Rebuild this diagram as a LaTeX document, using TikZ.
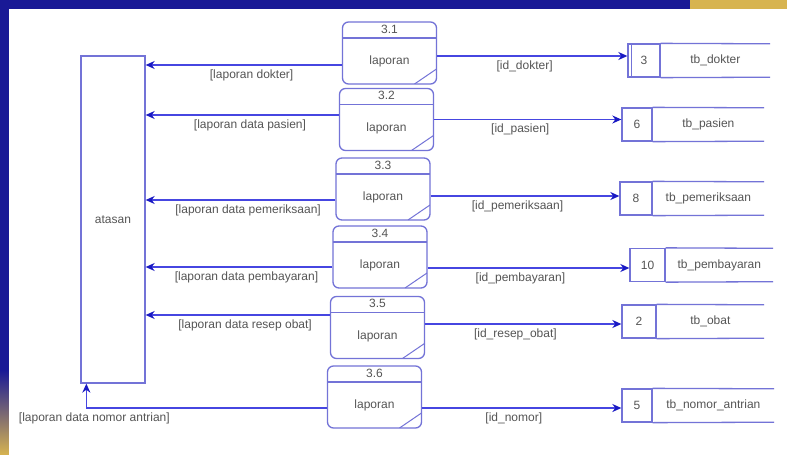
\documentclass[tikz,border=0pt]{standalone}
\usepackage{fontspec}
\setmainfont{Liberation Sans}
\usetikzlibrary{arrows.meta,positioning}
\definecolor{dfdline}{RGB}{70,70,225}
\definecolor{dfdbox}{RGB}{115,115,215}
\definecolor{dfdtip}{RGB}{25,25,195}
\definecolor{dfdtext}{RGB}{85,85,85}
\definecolor{bgblue}{RGB}{25,25,150}
\definecolor{bgyellow}{RGB}{215,180,80}
\tikzset{
  proc/.style={draw=dfdbox,line width=1.3pt,rounded corners=6pt,minimum width=94pt,
               minimum height=62pt,inner sep=0pt,text height=26pt,text depth=3pt,text=dfdtext,
               path picture={
                 \draw[dfdbox,line width=1.3pt] ([yshift=-16pt]path picture bounding box.north west)
                      -- ([yshift=-16pt]path picture bounding box.north east);
                 \draw[dfdbox,line width=1pt] ([xshift=-22pt]path picture bounding box.south east)
                      -- ([yshift=15pt]path picture bounding box.south east);}},
  pid/.style={anchor=north,inner sep=3.5pt,text=dfdtext},
  ent/.style={draw=dfdbox,line width=1.3pt,minimum width=64pt,minimum height=327pt,text=dfdtext},
  storeid/.style={draw=dfdbox,line width=1.3pt,minimum height=33pt,inner sep=0pt,text=dfdtext},
  storenm/.style={minimum height=33pt,inner sep=0pt,text=dfdtext},
  storeline/.style={draw=dfdbox,line width=1.3pt},
  flow/.style={draw=dfdline,line width=1.3pt,-{Stealth[length=9pt,width=8pt,color=dfdtip]}},
  flowlbl/.style={text=dfdtext,inner sep=1pt},
}
\begin{document}
\begin{tikzpicture}[x=1pt,y=-1pt,font=\fontsize{12}{14}\selectfont]
\useasboundingbox (0,0) rectangle (787,455);
% frame of the screenshot
\fill[bgblue] (0,0) rectangle (787,455);
\fill[bgyellow] (690,0) rectangle (787,9);
\shade[top color=bgblue,bottom color=bgyellow] (0,370) rectangle (9,455);
\fill[white] (9,9) rectangle (787,455);
% external entity
\node[ent] (atasan) at (113,219.5) {atasan};
% processes
\node[proc,label={[pid]north:3.1}] (p1) at (389.5,53) {laporan};
\node[proc,label={[pid]north:3.2}] (p2) at (386.5,119.5) {laporan};
\node[proc,label={[pid]north:3.3}] (p3) at (383,189) {laporan};
\node[proc,label={[pid]north:3.4}] (p4) at (380,257) {laporan};
\node[proc,label={[pid]north:3.5}] (p5) at (377.5,327.5) {laporan};
\node[proc,label={[pid]north:3.6}] (p6) at (374.5,397) {laporan};
% data stores
\node[storeid,minimum width=32pt] (s3id) at (644,60.5) {3};
\node[storenm,minimum width=109pt,right=0pt of s3id] (s3nm) {tb\_dokter};
\node[storeid,minimum width=30pt] (s6id) at (637,124.5) {6};
\node[storenm,minimum width=111pt,right=0pt of s6id] (s6nm) {tb\_pasien};
\node[storeid,minimum width=32pt] (s8id) at (636,198.5) {8};
\node[storenm,minimum width=111pt,right=0pt of s8id] (s8nm) {tb\_pemeriksaan};
\node[storeid,minimum width=35pt] (s10id) at (647.5,265) {10};
\node[storenm,minimum width=107pt,right=0pt of s10id] (s10nm) {tb\_pembayaran};
\node[storeid,minimum width=34pt] (s2id) at (639,321.5) {2};
\node[storenm,minimum width=107pt,right=0pt of s2id] (s2nm) {tb\_obat};
\node[storeid,minimum width=30pt] (s5id) at (637,405.5) {5};
\node[storenm,minimum width=121pt,right=0pt of s5id] (s5nm) {tb\_nomor\_antrian};
\foreach \s in {s3,s6,s8,s10,s2,s5}
  \draw[storeline] (\s id.north east) -- (\s nm.north east) (\s id.south east) -- (\s nm.south east);
\draw[storeline] ([xshift=4pt]s3id.north west) -- ([xshift=4pt]s3id.south west);
% reports to atasan
\draw[flow] ([yshift=-12pt]p1.west) coordinate (f1) -- node[flowlbl,below=3pt,pos=0.46] {[laporan dokter]} (f1 -| atasan.east);
\draw[flow] ([yshift=4.5pt]p2.west) coordinate (f2) -- node[flowlbl,below=3pt,pos=0.46] {[laporan data pasien]} (f2 -| atasan.east);
\draw[flow] ([yshift=-11pt]p3.west) coordinate (f3) -- node[flowlbl,below=3pt,pos=0.46] {[laporan data pemeriksaan]} (f3 -| atasan.east);
\draw[flow] ([yshift=-10pt]p4.west) coordinate (f4) -- node[flowlbl,below=3pt,pos=0.46] {[laporan data pembayaran]} (f4 -| atasan.east);
\draw[flow] ([yshift=12.5pt]p5.west) coordinate (f5) -- node[flowlbl,below=3pt,pos=0.46] {[laporan data resep obat]} (f5 -| atasan.east);
\draw[flow] ([yshift=-11pt]p6.west) -| node[flowlbl,below=3pt,pos=0.5,xshift=8pt] {[laporan data nomor antrian]} ([xshift=6pt]atasan.south west);
% keys to the stores
\draw[flow] ([yshift=-3pt]p1.east) coordinate (g1) -- node[flowlbl,below=3pt,pos=0.46] {[id\_dokter]} (g1 -| s3id.west);
\draw[flow] (p2.east) coordinate (g2) -- node[flowlbl,below=3pt,pos=0.46] {[id\_pasien]} (g2 -| s6id.west);
\draw[flow] ([yshift=-7pt]p3.east) coordinate (g3) -- node[flowlbl,below=3pt,pos=0.46] {[id\_pemeriksaan]} (g3 -| s8id.west);
\draw[flow] ([yshift=-11pt]p4.east) coordinate (g4) -- node[flowlbl,below=3pt,pos=0.46] {[id\_pembayaran]} (g4 -| s10id.west);
\draw[flow] ([yshift=3.5pt]p5.east) coordinate (g5) -- node[flowlbl,below=3pt,pos=0.46] {[id\_resep\_obat]} (g5 -| s2id.west);
\draw[flow] ([yshift=-11pt]p6.east) coordinate (g6) -- node[flowlbl,below=3pt,pos=0.46] {[id\_nomor]} (g6 -| s5id.west);
\end{tikzpicture}
\end{document}
